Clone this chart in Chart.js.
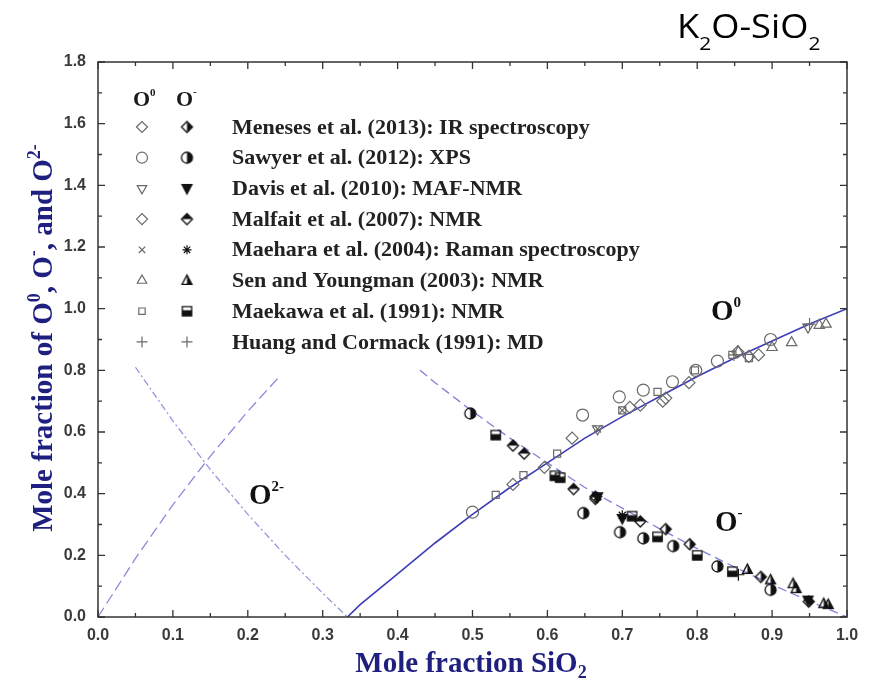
<!DOCTYPE html>
<html>
<head>
<meta charset="utf-8">
<script src="https://cdn.jsdelivr.net/npm/chart.js@4.4.0/dist/chart.umd.min.js"></script>
<style>
  html, body { margin: 0; background: #fff; }
  #wrap { width: 875px; height: 683px; }
</style>
</head>
<body>
<div id="wrap"><canvas id="c" width="875" height="683"></canvas></div>
<script>
// axis ticks
const xTickLabels = ['0.0','0.1','0.2','0.3','0.4','0.5','0.6','0.7','0.8','0.9','1.0'];
const yTickLabels = ['0.0','0.2','0.4','0.6','0.8','1.0','1.2','1.4','1.6','1.8'];

const studies = [
  'Meneses et al. (2013): IR spectroscopy',
  'Sawyer et al. (2012): XPS',
  'Davis et al. (2010): MAF-NMR',
  'Malfait et al. (2007): NMR',
  'Maehara et al. (2004): Raman spectroscopy',
  'Sen and Youngman (2003): NMR',
  'Maekawa et al. (1991): NMR',
  'Huang and Cormack (1991): MD'
];

// bridging oxygen (O0) measurements, [x SiO2, fraction]
const meneses0 = [[0.724,0.687],[0.758,0.71],[0.854,0.86],[0.869,0.845]];
const sawyer0  = [[0.50,0.34],[0.647,0.655],[0.696,0.714],[0.728,0.736],[0.767,0.763],[0.798,0.80],[0.827,0.83],[0.898,0.90]];
const davis0   = [[0.667,0.61],[0.948,0.94]];
const malfait0 = [[0.554,0.43],[0.596,0.485],[0.633,0.58],[0.71,0.68],[0.754,0.70],[0.789,0.76],[0.882,0.85]];
const maehara0 = [[0.667,0.61],[0.70,0.67]];
const sen0     = [[0.855,0.86],[0.90,0.874],[0.926,0.89],[0.963,0.946],[0.972,0.95]];
const maekawa0 = [[0.531,0.396],[0.568,0.46],[0.613,0.53],[0.70,0.67],[0.747,0.73],[0.797,0.80],[0.847,0.85],[0.869,0.84]];
const huang0   = [[0.849,0.85],[0.95,0.95]];

// non-bridging oxygen (O-) measurements
const meneses1 = [[0.664,0.383],[0.758,0.285],[0.79,0.236],[0.885,0.13],[0.949,0.05]];
const sawyer1  = [[0.497,0.66],[0.648,0.337],[0.697,0.275],[0.728,0.255],[0.768,0.23],[0.827,0.164],[0.898,0.088]];
const davis1   = [[0.667,0.39],[0.70,0.32],[0.948,0.055]];
const malfait1 = [[0.554,0.556],[0.569,0.53],[0.635,0.415],[0.664,0.39],[0.724,0.31]];
const maehara1 = [[0.667,0.39],[0.70,0.33]];
const sen1     = [[0.867,0.154],[0.898,0.12],[0.928,0.108],[0.932,0.092],[0.969,0.043],[0.975,0.04]];
const maekawa1 = [[0.531,0.59],[0.61,0.458],[0.617,0.452],[0.713,0.327],[0.747,0.26],[0.80,0.20],[0.847,0.147]];
const huang1   = [[0.855,0.137]];

// model curves
const o0Curve   = [[0.333,0],[0.35,0.04],[0.4,0.14],[0.45,0.24],[0.5,0.333],[0.55,0.42],[0.6,0.5],[0.65,0.58],[0.7,0.65],[0.75,0.715],[0.8,0.78],[0.85,0.84],[0.9,0.895],[0.95,0.95],[1.0,1.0]];
const o1Curve   = [[0.43,0.8],[0.45,0.76],[0.5,0.667],[0.55,0.58],[0.6,0.5],[0.65,0.42],[0.7,0.353],[0.75,0.286],[0.8,0.222],[0.85,0.162],[0.9,0.105],[0.95,0.051],[1.0,0]];
const o1LowCurve = [[0,0],[0.05,0.19],[0.1,0.364],[0.15,0.522],[0.2,0.667],[0.24,0.774]];
const o2Curve   = [[0.05,0.81],[0.1,0.636],[0.15,0.478],[0.2,0.333],[0.25,0.2],[0.3,0.077],[0.333,0]];

const pts = a => a.map(p => ({ x: p[0], y: p[1] }));

// small canvases for the half-filled symbols
function shapePath(g, shape, r){
  g.beginPath();
  if(shape === 'circle') g.arc(0, 0, r, 0, Math.PI*2);
  else if(shape === 'diamond'){ g.moveTo(0,-r); g.lineTo(r,0); g.lineTo(0,r); g.lineTo(-r,0); g.closePath(); }
  else if(shape === 'square'){ g.rect(-r*0.85,-r*0.85,r*1.7,r*1.7); }
  else if(shape === 'up'){ g.moveTo(0,-r); g.lineTo(r*0.9,r*0.7); g.lineTo(-r*0.9,r*0.7); g.closePath(); }
  else if(shape === 'down'){ g.moveTo(0,r); g.lineTo(r*0.9,-r*0.7); g.lineTo(-r*0.9,-r*0.7); g.closePath(); }
}
function mark(shape, fill){
  const c = document.createElement('canvas');
  c.width = c.height = 15;
  const g = c.getContext('2d');
  g.translate(7.5, 7.5);
  const r = 5.5;
  g.save();
  shapePath(g, shape, r);
  g.clip();
  g.fillStyle = '#111';
  if(fill === 'all') g.fillRect(-8,-8,16,16);
  else if(fill === 'right') g.fillRect(0,-8,8,16);
  else if(fill === 'top') g.fillRect(-8,-8,16,8);
  else if(fill === 'bottom') g.fillRect(-8,-1,16,9);
  g.restore();
  shapePath(g, shape, r);
  g.lineWidth = 1.3;
  g.strokeStyle = '#111';
  g.stroke();
  return c;
}

const openColor = '#6a6a6a';
const openStyles = [
  { pointStyle: 'rectRot', radius: 6 },
  { pointStyle: 'circle', radius: 6 },
  { pointStyle: 'triangle', radius: 6, rotation: 180 },
  { pointStyle: 'rectRot', radius: 6 },
  { pointStyle: 'crossRot', radius: 5 },
  { pointStyle: 'triangle', radius: 6 },
  { pointStyle: 'rect', radius: 5 },
  { pointStyle: 'cross', radius: 6 }
];
const filledStyles = [
  { pointStyle: mark('diamond','right'), radius: 6 },
  { pointStyle: mark('circle','right'), radius: 6 },
  { pointStyle: mark('down','all'), radius: 6 },
  { pointStyle: mark('diamond','top'), radius: 6 },
  { pointStyle: 'star', radius: 5 },
  { pointStyle: mark('up','right'), radius: 6 },
  { pointStyle: mark('square','bottom'), radius: 6 },
  { pointStyle: 'cross', radius: 6 }
];

const o0Sets = [meneses0, sawyer0, davis0, malfait0, maehara0, sen0, maekawa0, huang0];
const o1Sets = [meneses1, sawyer1, davis1, malfait1, maehara1, sen1, maekawa1, huang1];

const datasets = [];
datasets.push({ label: 'O0 model', data: pts(o0Curve), showLine: true, borderColor: '#3d3db5', borderWidth: 1.6, pointRadius: 0, order: 20 });
datasets.push({ label: 'O- model', data: pts(o1Curve), showLine: true, borderColor: '#8080d8', borderWidth: 1.3, borderDash: [9,5], pointRadius: 0, order: 20 });
datasets.push({ label: 'O- model low', data: pts(o1LowCurve), showLine: true, borderColor: '#8a8adc', borderWidth: 1.3, borderDash: [11,5], pointRadius: 0, order: 20 });
datasets.push({ label: 'O2- model', data: pts(o2Curve), showLine: true, borderColor: '#9595dc', borderWidth: 1.3, borderDash: [7,3,2,3], pointRadius: 0, order: 20 });
studies.forEach((s, i) => {
  const o = openStyles[i];
  datasets.push({ label: s + ' O0', data: pts(o0Sets[i]), showLine: false,
    pointStyle: o.pointStyle, pointRadius: o.radius, pointRotation: o.rotation || 0,
    borderColor: openColor, backgroundColor: 'rgba(255,255,255,0)', pointBorderWidth: 1.2 });
});
studies.forEach((s, i) => {
  const f = filledStyles[i];
  datasets.push({ label: s + ' O-', data: pts(o1Sets[i]), showLine: false,
    pointStyle: f.pointStyle, pointRadius: f.radius, pointRotation: f.rotation || 0,
    borderColor: '#111', backgroundColor: '#111', pointBorderWidth: 1.2 });
});

// draws a run of text pieces with raised / lowered parts; sx stretches it sideways
function rich(ctx, parts, x, y, align, sx){
  sx = sx || 1;
  let w = 0;
  parts.forEach(p => { ctx.font = p.f; p.w = ctx.measureText(p.t).width; w += p.w; });
  ctx.save();
  ctx.translate(align === 'center' ? x - w*sx/2 : x, y);
  ctx.scale(sx, 1);
  ctx.textAlign = 'left';
  ctx.textBaseline = 'alphabetic';
  let cx = 0;
  parts.forEach(p => { ctx.font = p.f; ctx.fillText(p.t, cx, p.dy || 0); cx += p.w; });
  ctx.restore();
  return w * sx;
}
function richWidth(ctx, parts){
  let w = 0;
  parts.forEach(p => { ctx.font = p.f; w += ctx.measureText(p.t).width; });
  return w;
}

const decor = {
  id: 'decor',
  afterDatasetsDraw(chart){
    const { ctx, chartArea: a, scales: { x, y } } = chart;
    ctx.save();
    // frame
    ctx.strokeStyle = '#333';
    ctx.lineWidth = 1.5;
    ctx.strokeRect(a.left, a.top, a.right - a.left, a.bottom - a.top);
    // inward ticks on all four sides
    ctx.lineWidth = 1.3;
    ctx.beginPath();
    for(let i = 0; i <= 20; i++){
      const px = x.getPixelForValue(i*0.05);
      const len = i % 2 === 0 ? 7 : 4;
      ctx.moveTo(px, a.bottom); ctx.lineTo(px, a.bottom - len);
      ctx.moveTo(px, a.top); ctx.lineTo(px, a.top + len);
    }
    for(let i = 0; i <= 18; i++){
      const py = y.getPixelForValue(i*0.1);
      const len = i % 2 === 0 ? 7 : 4;
      ctx.moveTo(a.left, py); ctx.lineTo(a.left + len, py);
      ctx.moveTo(a.right, py); ctx.lineTo(a.right - len, py);
    }
    ctx.stroke();

    // legend
    const hdr = 'bold 22px "Liberation Serif"', sup = 'bold 11px "Liberation Serif"';
    ctx.fillStyle = '#1a1a1a';
    rich(ctx, [{ t: 'O', f: hdr }, { t: '0', f: sup, dy: -10 }], 133, 106);
    rich(ctx, [{ t: 'O', f: hdr }, { t: '-', f: sup, dy: -11 }], 176, 106);
    studies.forEach((s, i) => {
      const ry = 127 + i * 30.7;
      const o = openStyles[i], f = filledStyles[i];
      ctx.lineWidth = 1.2;
      ctx.strokeStyle = openColor; ctx.fillStyle = 'rgba(255,255,255,0)';
      Chart.helpers.drawPoint(ctx, { pointStyle: o.pointStyle, radius: o.radius - 0.5, rotation: o.rotation || 0, borderWidth: 1.2 }, 142, ry);
      ctx.strokeStyle = i === 7 ? openColor : '#111'; ctx.fillStyle = '#111';
      Chart.helpers.drawPoint(ctx, { pointStyle: f.pointStyle, radius: f.radius - 0.5, rotation: 0, borderWidth: 1.2 }, 187, ry);
      ctx.fillStyle = '#222';
      ctx.font = 'bold 22px "Liberation Serif"';
      ctx.textAlign = 'left';
      ctx.textBaseline = 'middle';
      ctx.fillText(s, 232, ry + 1);
    });

    // curve labels
    ctx.fillStyle = '#111';
    const big = 'bold 29px "Liberation Serif"', small = 'bold 15px "Liberation Serif"';
    rich(ctx, [{ t: 'O', f: big }, { t: '0', f: small, dy: -13 }], 711, 320);
    rich(ctx, [{ t: 'O', f: big }, { t: '-', f: small, dy: -14 }], 715, 531);
    rich(ctx, [{ t: 'O', f: big }, { t: '2-', f: small, dy: -13 }], 249, 504);

    // axis titles
    ctx.fillStyle = '#1f1f80';
    const at = 'bold 29px "Liberation Serif"', as = 'bold 18px "Liberation Serif"';
    rich(ctx, [{ t: 'Mole fraction SiO', f: at }, { t: '2', f: as, dy: 6 }], 471, 672, 'center');
    ctx.save();
    ctx.translate(52, 338);
    ctx.rotate(-Math.PI/2);
    rich(ctx, [
      { t: 'Mole fraction of O', f: at }, { t: '0', f: as, dy: -12 },
      { t: ', O', f: at }, { t: '-', f: as, dy: -13 },
      { t: ', and O', f: at }, { t: '2-', f: as, dy: -12 }
    ], 0, 0, 'center');
    ctx.restore();

    // system name
    ctx.fillStyle = '#000';
    const tParts = [
      { t: 'K', f: '33px "Open Sans"' }, { t: '2', f: '19px "Open Sans"', dy: 12 },
      { t: 'O-SiO', f: '33px "Open Sans"' }, { t: '2', f: '19px "Open Sans"', dy: 12 }
    ];
    rich(ctx, tParts, 677, 38, 'left', Math.min(1.1, 145 / richWidth(ctx, tParts)));
    ctx.restore();
  }
};

const tickFont = { family: '"Liberation Sans"', size: 16, weight: 'bold' };

new Chart(document.getElementById('c'), {
  type: 'scatter',
  data: { datasets },
  options: {
    responsive: false,
    animation: false,
    layout: { padding: { top: 62, right: 28, left: 0, bottom: 0 } },
    plugins: { legend: { display: false }, tooltip: { enabled: false } },
    scales: {
      x: {
        type: 'linear', min: 0, max: 1,
        grid: { display: false, drawTicks: false },
        border: { display: false },
        ticks: { stepSize: 0.1, padding: 9, color: '#3a3a3a', font: tickFont, maxRotation: 0,
          callback: (v) => xTickLabels[Math.round(v * 10)] },
        afterFit: (s) => { s.height = 66; }
      },
      y: {
        type: 'linear', min: 0, max: 1.8,
        grid: { display: false, drawTicks: false },
        border: { display: false },
        ticks: { stepSize: 0.2, padding: 12, color: '#3a3a3a', font: tickFont,
          callback: (v) => yTickLabels[Math.round(v * 5)] },
        afterFit: (s) => { s.width = 98; }
      }
    }
  },
  plugins: [decor]
});
</script>
</body>
</html>
